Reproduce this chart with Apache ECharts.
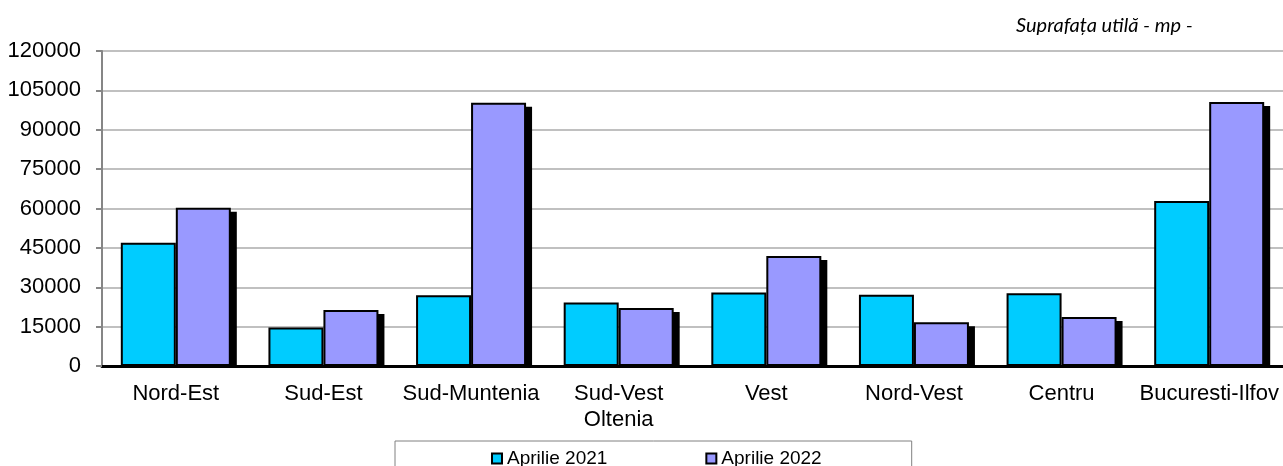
<!DOCTYPE html>
<html>
<head>
<meta charset="utf-8">
<script src="https://cdn.jsdelivr.net/npm/echarts@6/dist/echarts.min.js"></script>
<style>
  html, body { margin: 0; padding: 0; background: #fff; }
  #chart { width: 1283px; height: 466px; }
</style>
</head>
<body>
<div id="chart"></div>
<script>
const regions = ['Nord-Est', 'Sud-Est', 'Sud-Muntenia', 'Sud-Vest\nOltenia', 'Vest', 'Nord-Vest', 'Centru', 'Bucuresti-Ilfov']
const april2021 = [47000, 14700, 27000, 24200, 28000, 27100, 27700, 62900]
const april2022 = [60300, 21300, 100300, 22100, 41900, 16700, 18700, 100600]
const seriesNames = ['Aprilie 2021', 'Aprilie 2022']
const yTicks = { min: 0, max: 120000, step: 15000 }

const chart = echarts.init(document.getElementById('chart'))
const font = "'Liberation Sans', Arial, sans-serif"
const barW = 55

// black drop shadow behind the 2022 bars, offset right and down
const shadowItem = (params, api) => {
  const top = api.coord([api.value(0), api.value(1)])
  const base = api.coord([api.value(0), 0])
  const x = top[0] + 6
  const y = top[1] + 4
  return {
    type: 'rect',
    shape: { x: x, y: y, width: barW, height: Math.max(0, base[1] - y) },
    style: { fill: '#000' }
  }
}

chart.setOption({
  animation: false,
  textStyle: { fontFamily: font },
  graphic: [{
    type: 'text',
    left: 1016,
    top: 16,
    style: {
      text: 'Suprafața utilă - mp -',
      font: "italic 20px Lato, 'Open Sans', sans-serif",
      fill: '#000'
    }
  }],
  legend: {
    data: seriesNames,
    top: 441,
    left: 395,
    padding: [8, 90, 30, 96],
    itemGap: 98,
    itemWidth: 10,
    itemHeight: 10,
    icon: 'rect',
    borderColor: '#808080',
    borderWidth: 1,
    textStyle: { fontSize: 19, color: '#000', fontFamily: font }
  },
  grid: { left: 102, right: 0, top: 51, bottom: 100 },
  xAxis: {
    type: 'category',
    data: regions,
    axisLine: { lineStyle: { color: '#000', width: 3 } },
    axisTick: { length: 6, lineStyle: { color: '#000', width: 2 } },
    axisLabel: { interval: 0, margin: 15, fontSize: 22, lineHeight: 26, color: '#000' }
  },
  yAxis: {
    type: 'value',
    min: yTicks.min,
    max: yTicks.max,
    interval: yTicks.step,
    axisLine: { show: true, lineStyle: { color: '#868686', width: 2 } },
    axisTick: { show: true, length: 6, lineStyle: { color: '#868686', width: 2 } },
    axisLabel: { margin: 21, fontSize: 22, color: '#000', formatter: v => String(v) },
    splitLine: { lineStyle: { color: '#c0c0c0', width: 2 } }
  },
  series: [
    {
      type: 'custom',
      name: 'shadow',
      z: 1,
      renderItem: shadowItem,
      data: april2022.map((v, i) => [i, v])
    },
    {
      name: seriesNames[0],
      type: 'bar',
      z: 2,
      data: april2021,
      barWidth: barW,
      barGap: '0%',
      itemStyle: { color: '#00ccff', borderColor: '#000', borderWidth: 2 }
    },
    {
      name: seriesNames[1],
      type: 'bar',
      z: 3,
      data: april2022,
      barWidth: barW,
      barGap: '0%',
      itemStyle: { color: '#9999ff', borderColor: '#000', borderWidth: 2 }
    }
  ]
})
</script>
</body>
</html>
